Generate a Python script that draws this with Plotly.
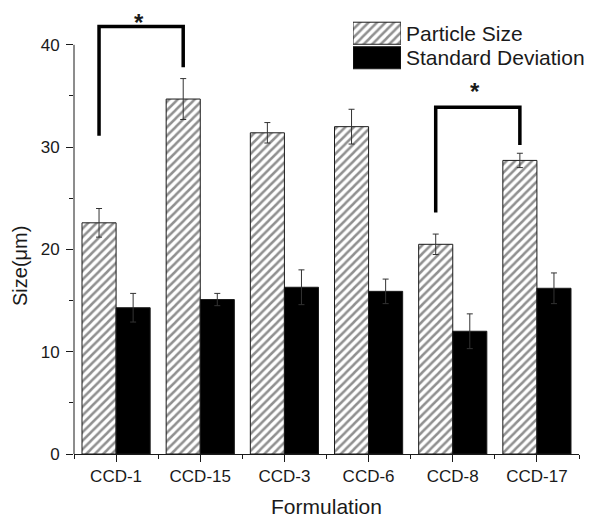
import plotly.graph_objects as go

categories = ["CCD-1", "CCD-15", "CCD-3", "CCD-6", "CCD-8", "CCD-17"]
particle_size = [22.6, 34.7, 31.4, 32.0, 20.5, 28.7]
particle_err = [1.4, 2.0, 1.0, 1.7, 1.0, 0.7]
std_dev = [14.3, 15.1, 16.3, 15.9, 12.0, 16.2]
std_err = [1.4, 0.6, 1.7, 1.2, 1.7, 1.5]

legend_labels = ["Particle Size", "Standard Deviation"]

# significance brackets: (left index, right index, top, left bottom, right bottom)
sig_left = [0, 4]
sig_right = [1, 5]
sig_top = [41.8, 33.9]
sig_left_bottom = [31.1, 23.6]
sig_right_bottom = [37.8, 30.2]
sig_star_y = [43.6, 36.9]

FONT = "Liberation Sans, Arial, sans-serif"
INK = "#1a1a1a"
BW = 0.405
HATCH = dict(shape="/", size=6, solidity=0.42, fgcolor="#222", bgcolor="white")

x = list(range(len(categories)))

fig = go.Figure()
fig.add_trace(go.Bar(
    x=x, y=particle_size, name=legend_labels[0], width=BW, offset=-BW,
    marker=dict(color="white", line=dict(color=INK, width=1), pattern=HATCH),
    error_y=dict(type="data", array=particle_err, color="#333", thickness=1, width=3),
    showlegend=False,
))
fig.add_trace(go.Bar(
    x=x, y=std_dev, name=legend_labels[1], width=BW, offset=0,
    marker=dict(color="black", line=dict(color=INK, width=1)),
    error_y=dict(type="data", array=std_err, color="#333", thickness=1, width=3),
    showlegend=False,
))

# legend swatches drawn as a small inset
fig.add_trace(go.Bar(
    y=[0], x=[1], orientation="h", width=0.9, xaxis="x2", yaxis="y2",
    marker=dict(color="white", line=dict(color=INK, width=1), pattern=HATCH),
    showlegend=False, hoverinfo="skip",
))
fig.add_trace(go.Bar(
    y=[1], x=[1], orientation="h", width=0.9, xaxis="x2", yaxis="y2",
    marker=dict(color="black", line=dict(color=INK, width=1)),
    showlegend=False, hoverinfo="skip",
))
for i, lab in enumerate(legend_labels):
    fig.add_annotation(x=1.06, y=i, xref="x2 domain", yref="y2", text=lab, showarrow=False,
                       xanchor="left", yanchor="middle", font=dict(size=21, color=INK, family=FONT))

# significance brackets
for l, r, t, lb, rb, sy in zip(sig_left, sig_right, sig_top, sig_left_bottom, sig_right_bottom, sig_star_y):
    xl = l - BW / 2
    xr = r - BW / 2
    fig.add_shape(type="path",
                  path=f"M {xl},{lb} L {xl},{t} L {xr},{t} L {xr},{rb}",
                  xref="x", yref="y", line=dict(color="black", width=3.5))
    fig.add_annotation(x=(xl + xr) / 2 - 0.03, y=sy, xref="x", yref="y", text="<b>*</b>",
                       showarrow=False, yanchor="top", borderpad=0,
                       font=dict(size=24, color=INK, family=FONT))

# y axis line only up to 40
fig.add_shape(type="line", xref="paper", yref="y", x0=0, x1=0, y0=0, y1=40,
              line=dict(color=INK, width=1))

# y axis title
fig.add_annotation(x=-0.107, y=0.4215, xref="paper", yref="paper", text="Size(μm)",
                   textangle=-90, showarrow=False, xanchor="center", yanchor="middle",
                   font=dict(size=20, color=INK, family=FONT))

fig.update_layout(
    width=592, height=517,
    margin=dict(l=66, r=21, t=0, b=71, autoexpand=False),
    paper_bgcolor="white", plot_bgcolor="white",
    font=dict(family=FONT, color=INK, size=17),
    bargap=0.19,
    xaxis=dict(
        range=[-0.5, 5.5], tickmode="array", tickvals=x, ticktext=categories,
        showgrid=False, zeroline=False, showline=True, linecolor=INK, linewidth=1,
        ticks="outside", ticklen=7, tickcolor=INK, automargin=False,
        minor=dict(tickmode="linear", tick0=0.5, dtick=1, ticks="outside", ticklen=4, tickcolor=INK, showgrid=False),
        tickfont=dict(size=17),
        title=dict(text="Formulation", font=dict(size=21), standoff=13),
    ),
    yaxis=dict(
        range=[0, 43.6], tickmode="linear", tick0=0, dtick=10,
        showgrid=False, zeroline=False, showline=False, automargin=False,
        ticks="outside", ticklen=7, tickcolor=INK, ticklabelstandoff=3,
        minor=dict(tickmode="linear", tick0=5, dtick=10, ticks="outside", ticklen=4, tickcolor=INK, showgrid=False),
        tickfont=dict(size=17),
    ),
    xaxis2=dict(domain=[0.5525, 0.6475], range=[0, 1], anchor="y2", visible=False, fixedrange=True),
    yaxis2=dict(domain=[0.8610, 0.9709], range=[1.5, -0.5], anchor="x2", visible=False, fixedrange=True),
)

fig.write_html("out.html")
